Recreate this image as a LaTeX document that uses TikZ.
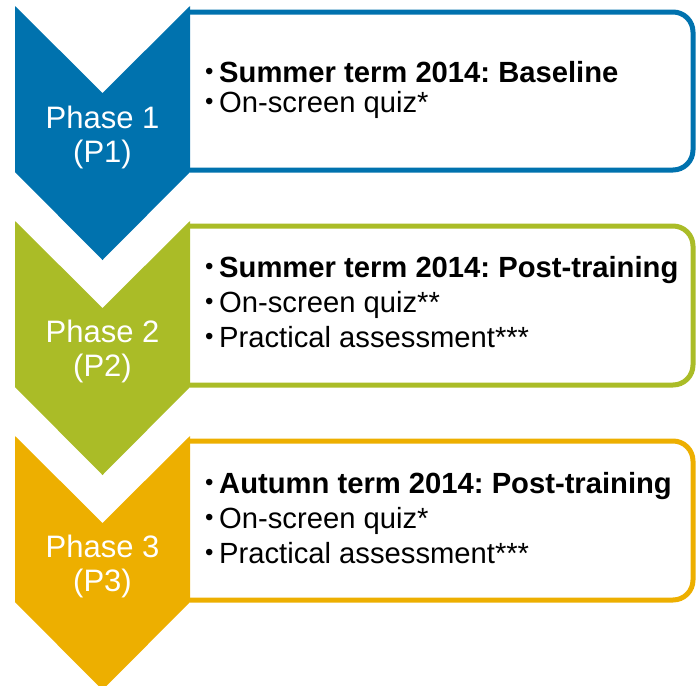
\documentclass[tikz,border=0pt]{standalone}
\usepackage{fontspec}
\setmainfont{Liberation Sans}
\frenchspacing
\definecolor{pblue}{HTML}{0072AE}
\definecolor{pgreen}{HTML}{AABC27}
\definecolor{porange}{HTML}{EDAF00}
\newcommand\bul[1]{\makebox[18pt][l]{\hspace{4pt}\raisebox{2.5pt}{\fontsize{24}{24}\selectfont\mdseries\textbullet}}#1}
\begin{document}
\begin{tikzpicture}[x=1pt,y=-1pt,
  boxline/.style={draw=#1,line width=5pt,rounded corners=20pt},
  phase/.style={text=white,font=\fontsize{31}{35}\selectfont,anchor=base,inner sep=0pt},
  item/.style={anchor=base west,inner sep=0pt,font=\fontsize{29.2}{30}\selectfont}]
\useasboundingbox (0,0) rectangle (697,686);
% boxes
\draw[boxline=pblue] (190,12) -- (693,12) -- (693,170) -- (190,170);
\draw[boxline=pgreen] (190,226) -- (693,226) -- (693,385) -- (190,385);
\draw[boxline=porange] (190,441) -- (693,441) -- (693,600) -- (190,600);
% chevrons
\fill[pblue] (15,6) -- (102.5,93) -- (190,6) -- (190,172) -- (102.5,260) -- (15,172) -- cycle;
\fill[pgreen] (15,221) -- (102.5,308) -- (190,221) -- (190,387) -- (102.5,475) -- (15,387) -- cycle;
\fill[porange] (15,436) -- (102.5,523) -- (190,436) -- (190,602) -- (102.5,690) -- (15,602) -- cycle;
% phase labels
\node[phase] (p1a) at (102.5,128) {Phase 1};
\node[phase] (p1b) at (102.5,162) {(P1)};
\node[phase] (p2a) at (102.5,342) {Phase 2};
\node[phase] (p2b) at (102.5,376) {(P2)};
\node[phase] (p3a) at (102.5,557) {Phase 3};
\node[phase] (p3b) at (102.5,591) {(P3)};
% items
\node[item] (b1a) at (201,82) {\bul{\textbf{Summer term 2014: Baseline}}};
\node[item] (b1b) at (201,112) {\bul{On-screen quiz*}};
\node[item] (b2a) at (201,277) {\bul{\textbf{Summer term 2014: Post-training}}};
\node[item] (b2b) at (201,312) {\bul{On-screen quiz**}};
\node[item] (b2c) at (201,347) {\bul{Practical assessment***}};
\node[item] (b3a) at (201,493) {\bul{\textbf{Autumn term 2014: Post-training}}};
\node[item] (b3b) at (201,528) {\bul{On-screen quiz*}};
\node[item] (b3c) at (201,563) {\bul{Practical assessment***}};
\end{tikzpicture}
\end{document}
